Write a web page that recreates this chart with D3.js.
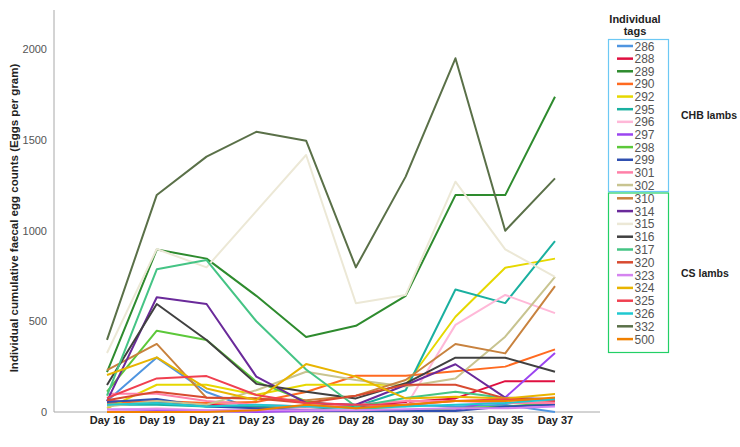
<!DOCTYPE html>
<html>
<head>
<meta charset="utf-8">
<script src="https://cdn.jsdelivr.net/npm/d3@7"></script>
<style>
  html, body { margin: 0; padding: 0; background: #fff; }
  svg { display: block; font-family: "Liberation Sans", Arial, sans-serif; }
</style>
</head>
<body>
<svg id="chart" width="740" height="447"></svg>
<script>
const days = ["Day 16","Day 19","Day 21","Day 23","Day 26","Day 28","Day 30","Day 33","Day 35","Day 37"];
const yTicks = [0, 500, 1000, 1500, 2000];

const tags = ["286","288","289","290","292","295","296","297","298","299","301","302",
              "310","314","315","316","317","320","323","324","325","326","332","500"];
const groups = ["CHB","CHB","CHB","CHB","CHB","CHB","CHB","CHB","CHB","CHB","CHB","CHB",
                "CS","CS","CS","CS","CS","CS","CS","CS","CS","CS","CS","CS"];
const colors = ["#4f95e0","#e01040","#2e8b2e","#ff6a20","#e6d800","#1ab0a0","#ffb8d8","#9b45f0",
                "#5cc83a","#3050b0","#ff80a8","#c8c490",
                "#c8823e","#6a2a9a","#ece8d6","#404040","#45c485","#d84a30","#d584f0","#e8b400",
                "#f04050","#20c8d0","#5a7048","#f08000"];

const v286 = [60, 300, 110, 10, 20, 30, 40, 30, 40, 0];
const v288 = [60, 50, 40, 30, 20, 30, 55, 75, 170, 170];
const v289 = [220, 895, 845, 640, 413, 475, 640, 1195, 1195, 1737];
const v290 = [50, 60, 50, 55, 110, 200, 200, 225, 250, 345];
const v292 = [20, 150, 150, 95, 150, 150, 150, 525, 795, 845];
const v295 = [40, 40, 30, 30, 20, 30, 120, 675, 600, 942];
const v296 = [10, 20, 10, 10, 20, 40, 30, 480, 645, 545];
const v297 = [0, 5, 5, 0, 5, 5, 10, 10, 80, 325];
const v298 = [112, 448, 397, 167, 60, 20, 10, 20, 30, 50];
const v299 = [55, 72, 30, 20, 10, 5, 5, 5, 30, 40];
const v301 = [100, 100, 60, 40, 30, 40, 60, 60, 50, 50];
const v302 = [30, 60, 40, 120, 222, 176, 140, 185, 415, 745];
const v310 = [231, 375, 78, 75, 65, 90, 176, 375, 323, 694];
const v314 = [60, 632, 595, 195, 50, 40, 149, 263, 79, 70];
const v315 = [325, 898, 797, 1107, 1416, 599, 645, 1269, 896, 745];
const v316 = [149, 595, 397, 155, 112, 75, 158, 299, 299, 222];
const v317 = [90, 786, 837, 500, 234, 30, 77, 112, 77, 66];
const v320 = [65, 112, 80, 75, 50, 90, 150, 150, 75, 65];
const v323 = [15, 15, 10, 10, 10, 10, 15, 20, 20, 30];
const v324 = [204, 301, 130, 66, 264, 195, 75, 84, 75, 99];
const v325 = [77, 185, 198, 94, 50, 40, 40, 60, 70, 60];
const v326 = [40, 50, 30, 40, 30, 20, 30, 40, 50, 70];
const v332 = [397, 1196, 1407, 1544, 1495, 797, 1297, 1949, 999, 1287];
const v500 = [0, 0, 0, 10, 40, 20, 40, 60, 60, 80];

const values = [v286,v288,v289,v290,v292,v295,v296,v297,v298,v299,v301,v302,
                v310,v314,v315,v316,v317,v320,v323,v324,v325,v326,v332,v500];

const series = tags.map((t, i) => ({tag: t, group: groups[i], color: colors[i], values: values[i]}));

const svg = d3.select("#chart");
const x = d3.scalePoint().domain(days).range([107, 555]);
const y = d3.scaleLinear().domain([0, 2215]).range([412, 10]);

// axes
const axisColor = "#a8a8a8";
svg.append("line").attr("x1", 54).attr("x2", 54).attr("y1", 10).attr("y2", 412)
  .attr("stroke", axisColor).attr("stroke-width", 1);
svg.append("line").attr("x1", 54).attr("x2", 600).attr("y1", 412).attr("y2", 412)
  .attr("stroke", axisColor).attr("stroke-width", 1);

const yAxis = d3.axisLeft(y).tickValues(yTicks).tickSize(0).tickPadding(0).tickFormat(d3.format("d"));
const gy = svg.append("g").attr("transform", "translate(47,0)").call(yAxis);
gy.select(".domain").remove();
gy.selectAll("text").attr("fill", "#555").style("font-size", "11px")
  .style("font-family", "Liberation Sans, Arial, sans-serif");

const xAxis = d3.axisBottom(x).tickSize(0).tickPadding(0);
const gx = svg.append("g").attr("transform", "translate(0,416)").call(xAxis);
gx.select(".domain").remove();
gx.selectAll("text").attr("fill", "#222").style("font-size", "11px").style("font-weight", "bold")
  .style("font-family", "Liberation Sans, Arial, sans-serif");

svg.append("text")
  .attr("transform", "translate(18,218) rotate(-90)")
  .attr("text-anchor", "middle")
  .style("font-size", "11.5px").style("font-weight", "bold").attr("fill", "#222")
  .text("Individual cumulative faecal egg counts (Eggs per gram)");

// lines
const line = d3.line().x((d, i) => x(days[i])).y(d => y(d));
svg.append("g").selectAll("path").data(series).join("path")
  .attr("d", d => line(d.values))
  .attr("fill", "none")
  .attr("stroke", d => d.color)
  .attr("stroke-width", 2)
  .attr("stroke-linejoin", "round");

// legend
svg.append("text").attr("x", 635).attr("y", 23).attr("text-anchor", "middle")
  .style("font-size", "11px").style("font-weight", "bold").attr("fill", "#222").text("Individual");
svg.append("text").attr("x", 635).attr("y", 35).attr("text-anchor", "middle")
  .style("font-size", "11px").style("font-weight", "bold").attr("fill", "#222").text("tags");

svg.append("rect").attr("x", 608.5).attr("y", 39.5).attr("width", 60).attr("height", 152)
  .attr("fill", "none").attr("stroke", "#6cc8f4").attr("stroke-width", 1.2);
svg.append("rect").attr("x", 608.5).attr("y", 193).attr("width", 60).attr("height", 159.5)
  .attr("fill", "none").attr("stroke", "#22d066").attr("stroke-width", 1.2);

const legendY = (i) => i < 12 ? 46 + i * 12.64 : 198.3 + (i - 12) * 12.8;
const lg = svg.append("g").selectAll("g").data(series).join("g")
  .attr("transform", (d, i) => `translate(0,${legendY(i)})`);
lg.append("line").attr("x1", 617).attr("x2", 633).attr("y1", 0).attr("y2", 0)
  .attr("stroke", d => d.color).attr("stroke-width", 2.5);
lg.append("text").attr("x", 634.5).attr("y", 4.5)
  .style("font-size", "12px").attr("fill", "#555").text(d => d.tag);

svg.append("text").attr("x", 681).attr("y", 119)
  .style("font-size", "10.5px").style("font-weight", "bold").attr("fill", "#222").text("CHB lambs");
svg.append("text").attr("x", 681).attr("y", 277)
  .style("font-size", "10.5px").style("font-weight", "bold").attr("fill", "#222").text("CS lambs");
</script>
</body>
</html>
